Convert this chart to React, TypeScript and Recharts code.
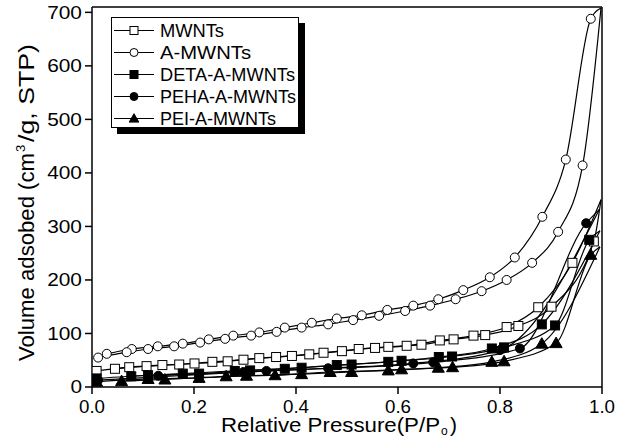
import { LineChart, Line, XAxis, YAxis, ReferenceLine, Legend } from "recharts";

const FONT = '"Liberation Sans", Arial, Helvetica, sans-serif';

type Pt = { p: number; v: number };

// N2 isotherms, adsorption (ads) and desorption (des) branches, plus the
// point where both branches meet near P/Po = 1 (drawn without a marker)
const mwntsAds: Pt[] = [
  { p: 0.009, v: 30 }, { p: 0.073, v: 37 }, { p: 0.138, v: 41 }, { p: 0.201, v: 44 },
  { p: 0.266, v: 48 }, { p: 0.328, v: 54 }, { p: 0.392, v: 58 }, { p: 0.454, v: 64 },
  { p: 0.523, v: 71 }, { p: 0.581, v: 75 }, { p: 0.646, v: 79 }, { p: 0.709, v: 89 },
  { p: 0.771, v: 97 }, { p: 0.836, v: 114 }, { p: 0.901, v: 150 }, { p: 0.984, v: 272 },
];
const mwntsDes: Pt[] = [
  { p: 0.045, v: 34 }, { p: 0.107, v: 39 }, { p: 0.171, v: 42 }, { p: 0.236, v: 47 },
  { p: 0.297, v: 51 }, { p: 0.361, v: 56 }, { p: 0.426, v: 61 }, { p: 0.49, v: 67 },
  { p: 0.555, v: 73 }, { p: 0.617, v: 77 }, { p: 0.682, v: 87 }, { p: 0.748, v: 96 },
  { p: 0.813, v: 112 }, { p: 0.875, v: 149 }, { p: 0.942, v: 232 },
];
const mwntsTop: Pt = { p: 0.998, v: 350 };

const aMwntsAds: Pt[] = [
  { p: 0.012, v: 55 }, { p: 0.068, v: 65 }, { p: 0.11, v: 71 }, { p: 0.161, v: 76 },
  { p: 0.212, v: 83 }, { p: 0.261, v: 90 }, { p: 0.312, v: 96 }, { p: 0.362, v: 103 },
  { p: 0.411, v: 111 }, { p: 0.463, v: 117 }, { p: 0.512, v: 125 }, { p: 0.563, v: 133 },
  { p: 0.614, v: 142 }, { p: 0.663, v: 152 }, { p: 0.713, v: 164 }, { p: 0.764, v: 179 },
  { p: 0.813, v: 200 }, { p: 0.863, v: 232 }, { p: 0.914, v: 290 }, { p: 0.962, v: 414 },
];
const aMwntsDes: Pt[] = [
  { p: 0.029, v: 62 }, { p: 0.078, v: 71 }, { p: 0.129, v: 76 }, { p: 0.178, v: 81 },
  { p: 0.229, v: 89 }, { p: 0.277, v: 96 }, { p: 0.328, v: 102 }, { p: 0.378, v: 111 },
  { p: 0.431, v: 120 }, { p: 0.48, v: 128 }, { p: 0.529, v: 134 }, { p: 0.579, v: 144 },
  { p: 0.63, v: 152 }, { p: 0.679, v: 164 }, { p: 0.728, v: 181 }, { p: 0.78, v: 205 },
  { p: 0.829, v: 242 }, { p: 0.883, v: 318 }, { p: 0.929, v: 425 }, { p: 0.978, v: 688 },
];
const aMwntsTop: Pt = { p: 0.998, v: 708 };

const detaAds: Pt[] = [
  { p: 0.009, v: 16 }, { p: 0.11, v: 22 }, { p: 0.21, v: 25 }, { p: 0.31, v: 31 },
  { p: 0.411, v: 36 }, { p: 0.509, v: 42 }, { p: 0.607, v: 49 }, { p: 0.706, v: 57 },
  { p: 0.808, v: 74 }, { p: 0.908, v: 115 }, { p: 0.975, v: 275 },
];
const detaDes: Pt[] = [
  { p: 0.077, v: 20 }, { p: 0.178, v: 25 }, { p: 0.28, v: 30 }, { p: 0.378, v: 34 },
  { p: 0.48, v: 41 }, { p: 0.581, v: 47 }, { p: 0.68, v: 56 }, { p: 0.784, v: 72 },
  { p: 0.882, v: 117 },
];
const detaTop: Pt = { p: 0.996, v: 292 };

const pehaAds: Pt[] = [
  { p: 0.012, v: 13 }, { p: 0.342, v: 30 }, { p: 0.669, v: 46 }, { p: 0.839, v: 72 },
  { p: 0.969, v: 306 },
];
const pehaDes: Pt[] = [
  { p: 0.13, v: 21 }, { p: 0.297, v: 28 }, { p: 0.463, v: 35 }, { p: 0.63, v: 44 },
  { p: 0.8, v: 69 },
];
const pehaTop: Pt = { p: 0.995, v: 332 };

const peiAds: Pt[] = [
  { p: 0.009, v: 10 }, { p: 0.11, v: 15 }, { p: 0.21, v: 17 }, { p: 0.303, v: 21 },
  { p: 0.411, v: 24 }, { p: 0.509, v: 28 }, { p: 0.607, v: 33 }, { p: 0.707, v: 37 },
  { p: 0.808, v: 48 }, { p: 0.91, v: 82 }, { p: 0.978, v: 247 },
];
const peiDes: Pt[] = [
  { p: 0.058, v: 11 }, { p: 0.143, v: 14 }, { p: 0.263, v: 20 }, { p: 0.359, v: 22 },
  { p: 0.467, v: 28 }, { p: 0.581, v: 31 }, { p: 0.679, v: 36 }, { p: 0.784, v: 47 },
  { p: 0.882, v: 81 },
];
const peiTop: Pt = { p: 0.996, v: 262 };

const xTicks = [0, 0.2, 0.4, 0.6, 0.8, 1.0];
const yTicks = [0, 100, 200, 300, 400, 500, 600, 700];

type Shape = "square" | "circle" | "triangle";

interface Series {
  name: string;
  shape: Shape;
  filled: boolean;
  ads: Pt[];
  des: Pt[];
  top: Pt;
}

// drawing order: open symbols underneath, filled on top
const series: Series[] = [
  { name: "A-MWNTs", shape: "circle", filled: false, ads: aMwntsAds, des: aMwntsDes, top: aMwntsTop },
  { name: "MWNTs", shape: "square", filled: false, ads: mwntsAds, des: mwntsDes, top: mwntsTop },
  { name: "PEI-A-MWNTs", shape: "triangle", filled: true, ads: peiAds, des: peiDes, top: peiTop },
  { name: "PEHA-A-MWNTs", shape: "circle", filled: true, ads: pehaAds, des: pehaDes, top: pehaTop },
  { name: "DETA-A-MWNTs", shape: "square", filled: true, ads: detaAds, des: detaDes, top: detaTop },
];

const legendOrder = ["MWNTs", "A-MWNTs", "DETA-A-MWNTs", "PEHA-A-MWNTs", "PEI-A-MWNTs"];

// glyph width per character, to hold the wide look of the original lettering
const charW = (s: string) =>
  s.split("").reduce((w, c) => w + (c === "." ? 4.5 : c === "-" ? 6.5 : /[MW]/.test(c) ? 17 : /[A-Z]/.test(c) ? 12.8 : 11), 0);

function Marker({ shape, filled, cx, cy, size }: { shape: Shape; filled: boolean; cx: number; cy: number; size: number }) {
  const fill = filled ? "#000" : "#fff";
  const h = size / 2;
  if (shape === "square") {
    return <rect x={cx - h} y={cy - h} width={size} height={size} fill={fill} stroke="#000" strokeWidth={1} />;
  }
  if (shape === "circle") {
    return <circle cx={cx} cy={cy} r={h} fill={fill} stroke="#000" strokeWidth={1} />;
  }
  const t = size * 0.6;
  return (
    <polygon
      points={`${cx},${cy - t} ${cx + t},${cy + t * 0.75} ${cx - t},${cy + t * 0.75}`}
      fill={fill}
      stroke="#000"
      strokeWidth={1}
    />
  );
}

const legendTextW: Record<string, number> = {
  MWNTs: 64,
  "A-MWNTs": 91,
  "DETA-A-MWNTs": 135,
  "PEHA-A-MWNTs": 136,
  "PEI-A-MWNTs": 116,
};

function LegendBox() {
  const rows = legendOrder.map((n) => series.find((s) => s.name === n)!);
  return (
    <div
      style={{
        width: 186,
        height: 109,
        border: "1px solid #000",
        background: "#fff",
        boxShadow: "6px 6px 0 #000",
      }}
    >
      <svg width={186} height={109} style={{ display: "block", overflow: "visible" }}>
        {rows.map((s, i) => {
          const y = 12.5 + i * 22;
          return (
            <g key={s.name}>
              <line x1={2} x2={42} y1={y} y2={y} stroke="#000" strokeWidth={1.2} />
              <Marker shape={s.shape} filled={s.filled} cx={22} cy={y} size={8} />
              <text
                x={48}
                y={y + 6.5}
                fontSize={18}
                fontFamily={FONT}
                fill="#000"
                textLength={legendTextW[s.name]}
                lengthAdjust="spacingAndGlyphs"
              >
                {s.name}
              </text>
            </g>
          );
        })}
      </svg>
    </div>
  );
}

function YLabel() {
  // reads bottom to top, starting just above the x axis
  return (
    <g transform="translate(34, 361) rotate(-90)" fontFamily={FONT} fill="#000">
      <text x={0} y={0} fontSize={22} textLength={208} lengthAdjust="spacingAndGlyphs">
        Volume adsobed (cm
      </text>
      <text x={209} y={-9} fontSize={13}>
        3
      </text>
      <text x={219} y={0} fontSize={22} textLength={98} lengthAdjust="spacingAndGlyphs">
        /g, STP)
      </text>
    </g>
  );
}

function XLabel() {
  return (
    <g fontFamily={FONT} fill="#000">
      <text x={221} y={432} fontSize={21} textLength={219} lengthAdjust="spacingAndGlyphs">
        Relative Pressure(P/P
      </text>
      <text x={441} y={435} fontSize={12}>
        o
      </text>
      <text x={450} y={432} fontSize={21}>
        )
      </text>
    </g>
  );
}

function XTick(props: any) {
  const label = Number(props.payload.value).toFixed(1);
  return (
    <text
      x={props.x}
      y={props.y}
      dy="0.71em"
      textAnchor="middle"
      fontSize={19}
      fontFamily={FONT}
      fill="#000"
      textLength={26}
      lengthAdjust="spacingAndGlyphs"
    >
      {label}
    </text>
  );
}

function YTick(props: any) {
  const label = String(props.payload.value);
  return (
    <text
      x={props.x}
      y={props.y}
      dy="0.36em"
      textAnchor="end"
      fontSize={18}
      fontFamily={FONT}
      fill="#000"
      textLength={label.length * 11.6}
      lengthAdjust="spacingAndGlyphs"
    >
      {label}
    </text>
  );
}

export default function App() {
  const axisStyle = { stroke: "#000", strokeWidth: 1.5 };
  return (
    <div style={{ position: "absolute", left: 0, top: 0, width: 629, height: 440, background: "#fff" }}>
      <LineChart width={629} height={440} margin={{ top: 7, right: 27, bottom: 23, left: 32 }}>
        <XAxis
          type="number"
          dataKey="p"
          domain={[0, 1]}
          ticks={xTicks}
          allowDataOverflow
          axisLine={axisStyle}
          tickLine={axisStyle}
          tickSize={7}
          tickMargin={6}
          tick={<XTick />}
          height={30}
          label={<XLabel />}
        />
        <YAxis
          type="number"
          domain={[0, 710]}
          ticks={yTicks}
          allowDataOverflow
          axisLine={axisStyle}
          tickLine={axisStyle}
          tickSize={7}
          tickMargin={3}
          tick={<YTick />}
          width={60}
          label={<YLabel />}
        />
        <ReferenceLine y={710} stroke="#000" strokeWidth={1.5} />
        <ReferenceLine x={1} stroke="#000" strokeWidth={1.5} />
        {series.flatMap((s) =>
          (["des", "ads"] as const).map((branch) => {
            const pts = s[branch];
            const data = [...pts, s.top];
            const id = `${s.name}-${branch}`;
            return (
              <Line
                key={id}
                data={data}
                dataKey="v"
                type="monotone"
                stroke="#000"
                strokeWidth={1.2}
                isAnimationActive={false}
                legendType="none"
                dot={(d: any) =>
                  d.index < pts.length ? (
                    <g key={`${id}-${d.index}`}>
                      <Marker shape={s.shape} filled={s.filled} cx={d.cx} cy={d.cy} size={s.shape === "triangle" ? 10 : 9} />
                    </g>
                  ) : (
                    <g key={`${id}-${d.index}`} />
                  )
                }
                activeDot={false}
              />
            );
          })
        )}
        <Legend
          layout="horizontal"
          verticalAlign="middle"
          align="center"
          content={() => <LegendBox />}
          wrapperStyle={{ position: "absolute", left: 111, top: 17, width: 188, height: 111 }}
        />
      </LineChart>
    </div>
  );
}
